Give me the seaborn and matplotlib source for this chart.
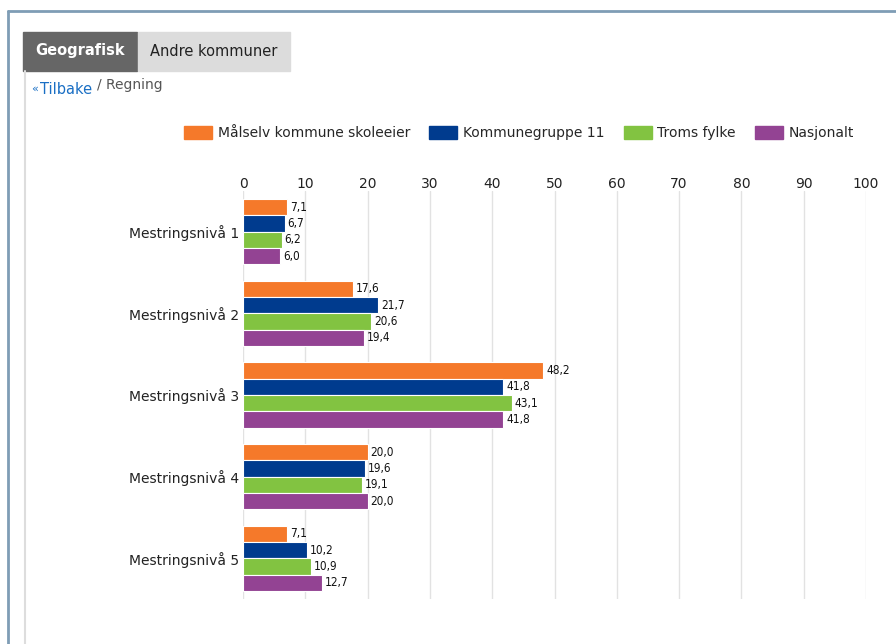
import pandas as pd
import seaborn as sns
import matplotlib.pyplot as plt
from matplotlib.patches import Rectangle
from matplotlib.lines import Line2D

# data
levels = ['Mestringsnivå 1', 'Mestringsnivå 2', 'Mestringsnivå 3', 'Mestringsnivå 4', 'Mestringsnivå 5']
series = ['Målselv kommune skoleeier', 'Kommunegruppe 11', 'Troms fylke', 'Nasjonalt']
malselv = [7.1, 17.6, 48.2, 20.0, 7.1]
kommunegruppe = [6.7, 21.7, 41.8, 19.6, 10.2]
troms = [6.2, 20.6, 43.1, 19.1, 10.9]
nasjonalt = [6.0, 19.4, 41.8, 20.0, 12.7]
colors = ['#F5792A', '#003B8E', '#82C341', '#934393']
xticks = list(range(0, 101, 10))

rows = []
for name, vals in zip(series, [malselv, kommunegruppe, troms, nasjonalt]):
    for lvl, v in zip(levels, vals):
        rows.append({'niva': lvl, 'serie': name, 'prosent': v})
df = pd.DataFrame(rows)

sns.set_theme(style='white')
plt.rcParams['font.family'] = ['DejaVu Sans']

W, H = 896, 644
fig = plt.figure(figsize=(W / 100, H / 100), dpi=100)


def fx(px):
    return px / W


def fy(py):
    return 1 - py / H


# page frame and tabs
fig.add_artist(Line2D([fx(8), fx(8)], [fy(11), 0], color='#7f9db5', lw=2))
fig.add_artist(Line2D([fx(8), 1], [fy(11), fy(11)], color='#7f9db5', lw=2))
fig.add_artist(Line2D([fx(25), fx(25)], [fy(71), 0], color='#dddddd', lw=1.5))
fig.add_artist(Rectangle((fx(23), fy(71)), fx(114), 39 / H, color='#666666'))
fig.add_artist(Rectangle((fx(138), fy(71)), fx(152), 39 / H, color='#dcdcdc'))
fig.text(fx(80), fy(51), 'Geografisk', color='white', fontsize=10.5, fontweight='bold',
         ha='center', va='center')
fig.text(fx(214), fy(51), 'Andre kommuner', color='#222222', fontsize=10.5,
         ha='center', va='center')
fig.text(fx(31), fy(89), '«', color='#1a6fc4', fontsize=8, va='center')
fig.text(fx(40), fy(89), 'Tilbake', color='#1a6fc4', fontsize=10.5, va='center')
fig.text(fx(97), fy(85), '/ Regning', color='#555555', fontsize=10, va='center')

ax = fig.add_axes([fx(243), fy(599), fx(866 - 243), (599 - 191) / H])
sns.barplot(data=df, y='niva', x='prosent', hue='serie', orient='h', palette=colors,
            width=0.8, saturation=1, edgecolor='white', linewidth=0.8, ax=ax, legend=False)

for cont in ax.containers:
    labs = [f'{b.get_width():.1f}'.replace('.', ',') for b in cont]
    ax.bar_label(cont, labels=labs, padding=2, fontsize=8.5, fontstretch='condensed',
                 color='#111111')

ax.set_xlim(0, 100)
ax.set_xticks(xticks)
ax.xaxis.tick_top()
ax.tick_params(axis='x', length=0, pad=0, labelsize=10, colors='#222222')
ax.tick_params(axis='y', length=0, pad=3, labelsize=10, colors='#222222')
ax.grid(axis='x', color='#e2e2e2', lw=1)
ax.set_axisbelow(True)
for s in ax.spines.values():
    s.set_visible(False)
ax.set_xlabel('')
ax.set_ylabel('')

handles = [Rectangle((0, 0), 1, 1, color=c) for c in colors]
fig.legend(handles, series, loc='center', bbox_to_anchor=(fx(519), fy(133)), ncol=4,
           frameon=False, fontsize=10, handlelength=2.0, handleheight=1.1,
           handletextpad=0.4, columnspacing=1.4)

fig.savefig('out.png', dpi=100)
